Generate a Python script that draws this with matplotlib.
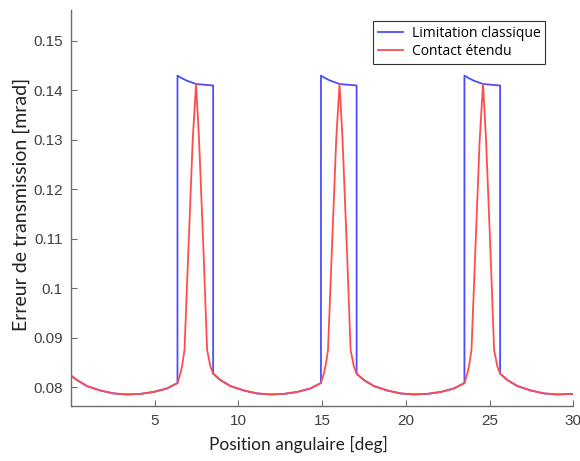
import matplotlib
matplotlib.use("Agg")
import matplotlib.pyplot as plt

# ------------------------------
# Données (position en deg, erreur en mrad)
# ------------------------------
pos_contact = [0.00, 0.36, 0.95, 1.75, 2.55, 3.34, 4.13, 4.93, 5.73,
               6.36, 6.54, 6.66, 6.78, 7.00, 7.27, 7.47, 7.65, 7.92, 8.13, 8.33, 8.49,
               8.93, 9.52, 10.32, 11.12, 11.91, 12.70, 13.50, 14.30,
               14.93, 15.11, 15.23, 15.35, 15.57, 15.84, 16.04, 16.22, 16.49, 16.70, 16.90, 17.06,
               17.50, 18.09, 18.89, 19.69, 20.48, 21.27, 22.07, 22.87,
               23.50, 23.68, 23.80, 23.92, 24.14, 24.41, 24.61, 24.79, 25.06, 25.27, 25.47, 25.63,
               26.07, 26.66, 27.46, 28.26, 29.05, 29.84, 30.00]
err_contact = [0.0823, 0.0814, 0.0802, 0.0793, 0.0787, 0.0785, 0.0786, 0.0790, 0.0797,
               0.0808, 0.0828, 0.0848, 0.0875, 0.1067, 0.1300, 0.1413, 0.1300, 0.1070, 0.0875, 0.0841, 0.0827,
               0.0814, 0.0802, 0.0793, 0.0787, 0.0785, 0.0786, 0.0790, 0.0797,
               0.0808, 0.0828, 0.0848, 0.0875, 0.1067, 0.1300, 0.1413, 0.1300, 0.1070, 0.0875, 0.0841, 0.0827,
               0.0814, 0.0802, 0.0793, 0.0787, 0.0785, 0.0786, 0.0790, 0.0797,
               0.0808, 0.0828, 0.0848, 0.0875, 0.1067, 0.1300, 0.1413, 0.1300, 0.1070, 0.0875, 0.0841, 0.0827,
               0.0814, 0.0802, 0.0793, 0.0787, 0.0785, 0.0786, 0.0786]

pos_classique = [0.00, 0.36, 0.95, 1.75, 2.55, 3.34, 4.13, 4.93, 5.73,
                 6.36, 6.36, 6.61, 6.90, 7.47, 8.49, 8.49,
                 8.93, 9.52, 10.32, 11.12, 11.91, 12.70, 13.50, 14.30,
                 14.93, 14.93, 15.18, 15.47, 16.04, 17.06, 17.06,
                 17.50, 18.09, 18.89, 19.69, 20.48, 21.27, 22.07, 22.87,
                 23.50, 23.50, 23.75, 24.04, 24.61, 25.63, 25.63,
                 26.07, 26.66, 27.46, 28.26, 29.05, 29.84, 30.00]
err_classique = [0.0823, 0.0814, 0.0802, 0.0793, 0.0787, 0.0785, 0.0786, 0.0790, 0.0797,
                 0.0808, 0.1430, 0.1425, 0.1420, 0.1413, 0.1410, 0.0827,
                 0.0814, 0.0802, 0.0793, 0.0787, 0.0785, 0.0786, 0.0790, 0.0797,
                 0.0808, 0.1430, 0.1425, 0.1420, 0.1413, 0.1410, 0.0827,
                 0.0814, 0.0802, 0.0793, 0.0787, 0.0785, 0.0786, 0.0790, 0.0797,
                 0.0808, 0.1430, 0.1425, 0.1420, 0.1413, 0.1410, 0.0827,
                 0.0814, 0.0802, 0.0793, 0.0787, 0.0785, 0.0786, 0.0786]

x_ticks = [5, 10, 15, 20, 25, 30]
y_ticks = [0.08, 0.09, 0.10, 0.11, 0.12, 0.13, 0.14, 0.15]
y_tick_labels = ["0.08", "0.09", "0.1", "0.11", "0.12", "0.13", "0.14", "0.15"]

# ------------------------------
# Figure
# ------------------------------
fig = plt.figure(figsize=(5.8, 4.61), dpi=100)
ax = fig.add_axes([0.1224, 0.1193, 0.866, 0.859])

ax.plot(pos_classique, err_classique, color="#4d4dff", linewidth=1.3, label="Limitation classique")
ax.plot(pos_contact, err_contact, color="#ff4d4d", linewidth=1.3, label="Contact étendu")

ax.set_xlim(0, 30)
ax.set_ylim(0.07616, 0.15627)
ax.set_xticks(x_ticks)
ax.set_yticks(y_ticks)
ax.set_yticklabels(y_tick_labels)

# Style MATLAB : pas de cadre haut/droite, graduations vers l'intérieur
for side in ("top", "right"):
    ax.spines[side].set_visible(False)
for side in ("left", "bottom"):
    ax.spines[side].set_color("#6e6e6e")
    ax.spines[side].set_linewidth(1.0)
ax.tick_params(direction="in", length=4, width=0.8, color="#6e6e6e",
               labelcolor="#404040", labelsize=11, pad=6)
for lab in ax.get_xticklabels() + ax.get_yticklabels():
    lab.set_family("Liberation Sans")

ax.set_xlabel("Position angulaire [deg]", fontsize=12.5, family="Lato", color="#222222")
ax.xaxis.set_label_coords(0.452, -0.076)
ax.set_ylabel("Erreur de transmission [mrad]", fontsize=14, family="Lato", color="#222222")
ax.yaxis.set_label_coords(-0.081, 0.51)

leg = ax.legend(loc="upper right", bbox_to_anchor=(0.944, 0.972), borderaxespad=0,
                fancybox=False, edgecolor="#333333", framealpha=1, handlelength=1.8,
                handletextpad=0.6, borderpad=0.35, labelspacing=0.2,
                prop={"family": "Open Sans", "size": 10})
leg.get_frame().set_linewidth(0.8)

fig.savefig("out.png", dpi=100)
